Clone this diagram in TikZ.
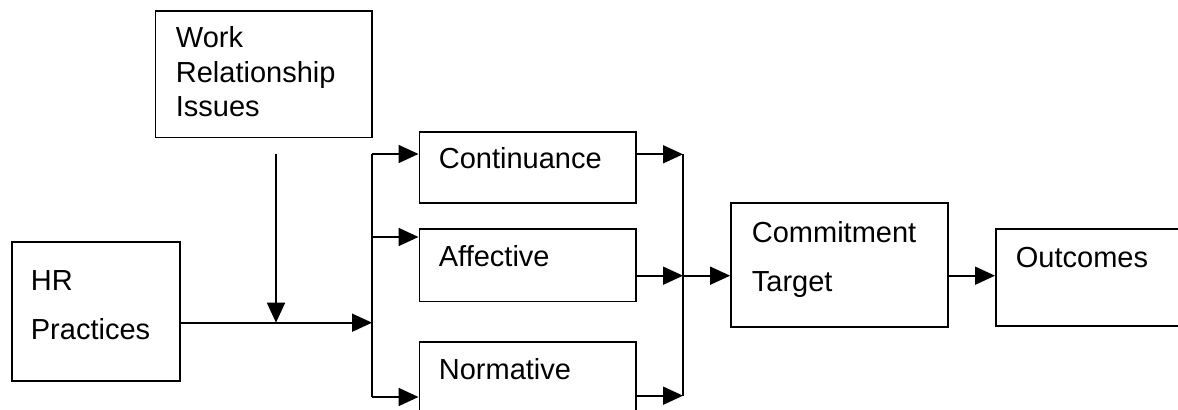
\documentclass[tikz,border=0pt]{standalone}
\usepackage{fontspec}
\setmainfont{Liberation Sans}
\usetikzlibrary{arrows.meta}
\tikzset{
  box/.style={draw, minimum width=108.3pt, inner sep=0pt},
  txt/.style={anchor=base west, inner sep=0pt, font=\fontsize{14.5}{17}\selectfont},
  arr/.style={-{Triangle[length=10pt,width=9pt]}},
}
\begin{document}
\begin{tikzpicture}[x=0.5pt,y=-0.5pt,line width=0.9pt]
\clip (0,0) rectangle (1178,410);
% boxes
\node[box, minimum height=63.3pt] (wr) at (263.8,74.3) {};
\node[box, minimum width=84pt, minimum height=69.5pt] (hr) at (96,311.5) {};
\node[box, minimum height=35.5pt] (cont) at (527.7,167.2) {};
\node[box, minimum height=36.3pt] (aff) at (527.7,265.3) {};
\node[box, minimum height=36pt] (norm) at (527.7,378) {};
\node[box, minimum width=108.5pt, minimum height=61.7pt] (cmt) at (839.5,265) {};
\node[box, minimum height=48.3pt] (out) at (1104.2,277.7) {};
% texts
\node[txt] (wr1) at (175,48) {Work};
\node[txt] (wr2) at (175,83) {Relationship};
\node[txt] (wr3) at (175,117) {Issues};
\node[txt] (hr1) at (30,291) {HR};
\node[txt] (hr2) at (30,340) {Practices};
\node[txt] (cont1) at (438,169) {Continuance};
\node[txt] (aff1) at (438,267) {Affective};
\node[txt] (norm1) at (438,380) {Normative};
\node[txt] (cmt1) at (751,243) {Commitment};
\node[txt] (cmt2) at (751,292) {Target};
\node[txt] (out1) at (1015,268) {Outcomes};
% junctions
\coordinate (split) at (372,322.7);
\coordinate (mod) at (276,154);
\coordinate (ca) at (372,154);
\coordinate (cb) at (372,237);
\coordinate (cc) at (372,397);
\coordinate (da) at (683,154.3);
\coordinate (db) at (683,275.7);
\coordinate (dc) at (683,395.7);
% connectors
\draw[arr] (hr.east |- split) -- (split);
\draw[arr] (mod) -- (mod |- split);
\draw (ca) -- (cc);
\draw[arr] (ca) -- (cont.west |- ca);
\draw[arr] (cb) -- (aff.west |- cb);
\draw[arr] (cc) -- (norm.west |- cc);
\draw (da) -- (dc);
\draw[arr] (cont.east |- da) -- (da);
\draw[arr] (aff.east |- db) -- (db);
\draw[arr] (norm.east |- dc) -- (dc);
\draw[arr] (db) -- (cmt.west |- db);
\draw[arr] (cmt.east |- db) -- (out.west |- db);
\end{tikzpicture}
\end{document}
